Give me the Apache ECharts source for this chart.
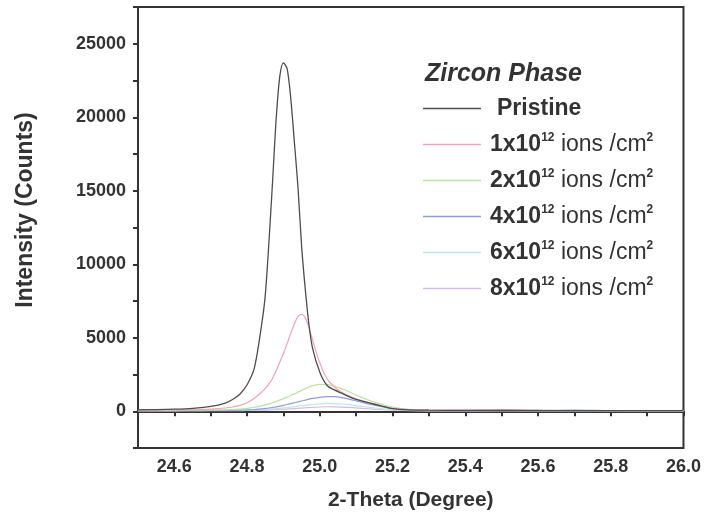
<!DOCTYPE html>
<html lang="en">
  <head>
    <meta charset="UTF-8" />
    <title>Zircon Phase</title>
    <script src="https://cdn.jsdelivr.net/npm/echarts@6/dist/echarts.min.js"></script>
    <style>
      body { margin: 0; background: #fff; }
    </style>
  </head>
  <body>
    <div id="main" style="height: 520px; width: 704px"></div>
  </body>
</html>
<script>
  // 2-theta grid (degree)
  const theta = [
    24.50, 24.55, 24.60, 24.65, 24.70, 24.74, 24.76, 24.78, 24.80, 24.82,
    24.84, 24.85, 24.86, 24.87, 24.88, 24.89, 24.90, 24.91, 24.92, 24.93,
    24.94, 24.95, 24.96, 24.97, 24.98, 25.00, 25.02, 25.04, 25.06, 25.08,
    25.10, 25.13, 25.16, 25.20, 25.25, 25.30, 25.40, 25.50, 25.60, 25.70,
    25.80, 25.90, 26.00
  ]

  const pristine = [
    100, 110, 140, 200, 330, 560, 800, 1160, 1800, 2950,
    5900, 7900, 11500, 15600, 19900, 22800, 23700, 23300, 21300, 18300,
    15200, 11200, 8300, 5900, 4300, 2650, 1750, 1450, 1230, 1000,
    800, 600, 420, 180, 90, 70, 60, 50, 50, 40,
    40, 40, 40
  ]
  const dose1 = [
    80, 85, 95, 110, 150, 220, 290, 400, 580, 880,
    1300, 1550, 1850, 2250, 2750, 3350, 3950, 4600, 5300, 5950,
    6450, 6600, 6350, 5700, 4850, 3300, 2200, 1650, 1300, 1050,
    850, 620, 430, 200, 100, 70, 80, 110, 60, 50,
    50, 45, 45
  ]
  const dose2 = [
    60, 60, 65, 70, 80, 100, 120, 150, 200, 270,
    370, 430, 500, 580, 670, 760, 860, 960, 1070, 1180,
    1300, 1420, 1540, 1650, 1740, 1830, 1820, 1720, 1540, 1330,
    1100, 800, 550, 280, 110, 60, 50, 50, 45, 45,
    40, 40, 40
  ]
  const dose4 = [
    50, 50, 55, 60, 65, 70, 75, 80, 90, 120,
    160, 190, 220, 260, 300, 350, 400, 460, 520, 580,
    640, 700, 760, 820, 870, 950, 1000, 990, 930, 830,
    710, 520, 360, 190, 90, 60, 50, 50, 50, 80,
    50, 45, 45
  ]
  const dose6 = [
    40, 40, 42, 45, 50, 55, 60, 65, 70, 85,
    105, 120, 135, 155, 175, 200, 225, 255, 285, 315,
    345, 375, 405, 435, 460, 505, 530, 525, 495, 445,
    385, 290, 205, 115, 60, 45, 40, 40, 40, 40,
    40, 40, 40
  ]
  const dose8 = [
    30, 30, 32, 35, 38, 40, 42, 45, 50, 58,
    70, 78, 86, 96, 108, 120, 135, 150, 165, 180,
    198, 215, 232, 248, 262, 290, 305, 302, 286, 258,
    225, 172, 124, 72, 40, 32, 30, 30, 30, 30,
    30, 30, 30
  ]

  const seriesNames = [
    'Pristine',
    '1x10^12 ions /cm^2',
    '2x10^12 ions /cm^2',
    '4x10^12 ions /cm^2',
    '6x10^12 ions /cm^2',
    '8x10^12 ions /cm^2'
  ]
  const seriesValues = [pristine, dose1, dose2, dose4, dose6, dose8]
  const colors = ['#4d4d4d', '#f1a3b6', '#b7e59a', '#8e9ddf', '#b4ebe6', '#d6b9ee']

  const font = 'Liberation Sans, Arial, sans-serif'

  const chartInstance = echarts.init(document.getElementById('main'))

  const series = seriesNames.map((name, i) => {
    return {
      name: name,
      type: 'line',
      symbol: 'none',
      smooth: 0.3,
      z: 10 - i,
      data: theta.map((t, j) => [t, seriesValues[i][j]]),
      lineStyle: { color: colors[i], width: i === 0 ? 1.3 : 1.2 },
      itemStyle: { color: colors[i] }
    }
  })

  const option = {
    backgroundColor: '#fff',
    animation: false,
    title: {
      text: 'Zircon Phase',
      left: 420,
      top: 57,
      textStyle: {
        fontFamily: font,
        fontSize: 25,
        fontWeight: 'bold',
        fontStyle: 'italic',
        color: '#333'
      }
    },
    graphic: [
      {
        type: 'text',
        x: 26,
        y: 210,
        rotation: Math.PI / 2,
        style: {
          text: 'Intensity (Counts)',
          fontFamily: font,
          fontSize: 23,
          fontWeight: 'bold',
          fill: '#333',
          align: 'center',
          verticalAlign: 'middle'
        }
      }
    ],
    legend: {
      orient: 'vertical',
      left: 418,
      top: 92,
      icon: 'rect',
      itemWidth: 58,
      itemHeight: 1.5,
      itemGap: 12,
      data: seriesNames,
      formatter: function (name) {
        if (name === 'Pristine') {
          return '{p|Pristine}'
        }
        const num = name.split('x10')[0]
        return '{b|' + num + 'x10}{s|12}{n| ions /cm}{s|2}'
      },
      textStyle: {
        fontFamily: font,
        color: '#333',
        rich: {
          p: { fontFamily: font, fontSize: 23, fontWeight: 'bold', color: '#333', lineHeight: 25, padding: [0, 0, 0, 11] },
          b: { fontFamily: font, fontSize: 23, fontWeight: 'bold', color: '#333', lineHeight: 25, padding: [0, 0, 0, 4] },
          n: { fontFamily: font, fontSize: 23, color: '#333', lineHeight: 25 },
          s: { fontFamily: font, fontSize: 12, fontWeight: 'bold', color: '#333', lineHeight: 12, verticalAlign: 'top' }
        }
      }
    },
    grid: {
      left: 138,
      right: 19,
      top: 7,
      bottom: 72,
      show: true,
      borderColor: '#333',
      borderWidth: 2,
      containLabel: false
    },
    xAxis: {
      type: 'value',
      min: 24.5,
      max: 26.0,
      interval: 0.1,
      name: '2-Theta (Degree)',
      nameLocation: 'middle',
      nameGap: 42,
      nameTextStyle: { fontFamily: font, fontSize: 21, fontWeight: 'bold', color: '#333' },
      splitLine: { show: false },
      axisLine: { lineStyle: { color: '#333', width: 2 } },
      axisTick: { length: 5, lineStyle: { color: '#333', width: 2 } },
      axisLabel: {
        margin: 10,
        fontFamily: font,
        fontSize: 18,
        fontWeight: 'bold',
        color: '#333',
        formatter: function (v) {
          const k = Math.round(v * 10)
          return k % 2 === 0 ? (k / 10).toFixed(1) : ''
        }
      }
    },
    yAxis: {
      type: 'value',
      min: -2500,
      max: 27500,
      interval: 2500,
      splitLine: { show: false },
      axisLine: { onZero: false, lineStyle: { color: '#333', width: 2 } },
      axisTick: { length: 5, lineStyle: { color: '#333', width: 2 } },
      axisLabel: {
        margin: 12,
        fontFamily: font,
        fontSize: 18,
        fontWeight: 'bold',
        color: '#333',
        formatter: function (v) {
          return v >= 0 && v % 5000 === 0 ? String(v) : ''
        }
      }
    },
    series: series
  }

  chartInstance.setOption(option)

  window.addEventListener('resize', () => {
    chartInstance.resize()
  })
</script>
